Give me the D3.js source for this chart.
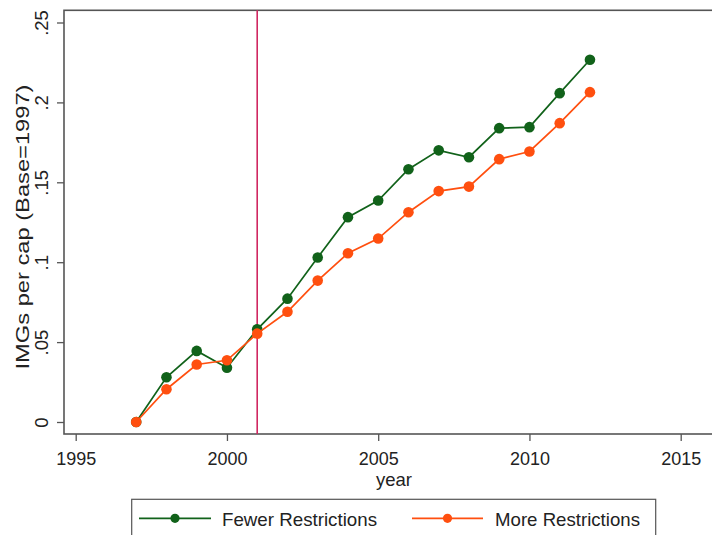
<!DOCTYPE html>
<html>
<head>
<meta charset="utf-8">
<script src="https://cdn.jsdelivr.net/npm/d3@7/dist/d3.min.js"></script>
<style>
  html, body { margin: 0; padding: 0; background: #fff; }
  svg { display: block; font-family: Arial, "Liberation Sans", Helvetica, sans-serif; }
</style>
</head>
<body>
<svg id="chart" width="712" height="535"></svg>
<script>
const years = [1997, 1998, 1999, 2000, 2001, 2002, 2003, 2004, 2005, 2006, 2007, 2008, 2009, 2010, 2011, 2012];
const fewerRestrictions = [0, 0.028, 0.0445, 0.034, 0.058, 0.0772, 0.1029, 0.1282, 0.1386, 0.1582, 0.170, 0.1657, 0.1839, 0.1845, 0.2058, 0.2267];
const moreRestrictions = [0, 0.0205, 0.036, 0.0386, 0.0553, 0.069, 0.0885, 0.1056, 0.1148, 0.1313, 0.1445, 0.1473, 0.1645, 0.1693, 0.187, 0.2064];
const xTicks = [1995, 2000, 2005, 2010, 2015];
const yTicks = [0, 0.05, 0.1, 0.15, 0.2, 0.25];
const yTickLabels = ["0", ".05", ".1", ".15", ".2", ".25"];
const seriesNames = ["Fewer Restrictions", "More Restrictions"];
const policyYear = 2001;

const GREEN = "#11621a";
const ORANGE = "#ff4f0f";
const VLINE = "#d02761";
const AXIS = "#555555";

const svg = d3.select("#chart");
const x = d3.scaleLinear().domain([1995, 2015]).range([75.7, 680.7]);
const y = d3.scaleLinear().domain([0, 0.25]).range([422, 22.5]);

const frame = { left: 64, right: 716, top: 10.3, bottom: 434 };

svg.append("rect")
  .attr("x", frame.left).attr("y", frame.top)
  .attr("width", frame.right - frame.left).attr("height", frame.bottom - frame.top)
  .attr("fill", "none").attr("stroke", AXIS).attr("stroke-width", 1.6);

// X axis
const xAxis = d3.axisBottom(x).tickValues(xTicks).tickFormat(d3.format("d")).tickSize(7).tickPadding(11);
const gx = svg.append("g").attr("transform", `translate(0,${frame.bottom})`).call(xAxis);
gx.select(".domain").remove();
gx.selectAll(".tick line").attr("stroke", AXIS).attr("stroke-width", 1.3);
gx.selectAll(".tick text").attr("fill", "#222").attr("font-size", 18.5).attr("dy", "0.71em")
  .attr("textLength", 40).attr("lengthAdjust", "spacingAndGlyphs");

// Y axis
const yAxis = d3.axisLeft(y).tickValues(yTicks).tickFormat((d, i) => yTickLabels[i]).tickSize(7).tickPadding(0);
const gy = svg.append("g").attr("transform", `translate(${frame.left},0)`).call(yAxis);
gy.select(".domain").remove();
gy.selectAll(".tick line").attr("stroke", AXIS).attr("stroke-width", 1.3);
gy.selectAll(".tick text")
  .attr("fill", "#222").attr("font-size", 18.5)
  .attr("x", null).attr("dy", null)
  .attr("text-anchor", "middle")
  .attr("transform", "translate(-16,0) rotate(-90)");

// axis titles
svg.append("text").attr("x", 394).attr("y", 486).attr("text-anchor", "middle")
  .attr("font-size", 18.5).attr("fill", "#222").text("year");
svg.append("text").attr("transform", "translate(29,227) rotate(-90)").attr("text-anchor", "middle")
  .attr("font-size", 19).attr("fill", "#222")
  .attr("textLength", 285).attr("lengthAdjust", "spacingAndGlyphs")
  .text("IMGs per cap (Base=1997)");

// vertical policy line
svg.append("line")
  .attr("x1", x(policyYear)).attr("x2", x(policyYear))
  .attr("y1", frame.top).attr("y2", frame.bottom)
  .attr("stroke", VLINE).attr("stroke-width", 1.6);

const line = d3.line().x(d => x(d[0])).y(d => y(d[1]));
const series = [
  { name: seriesNames[0], values: fewerRestrictions, color: GREEN },
  { name: seriesNames[1], values: moreRestrictions, color: ORANGE }
];

series.forEach(s => {
  const pts = years.map((yr, i) => [yr, s.values[i]]);
  svg.append("path").datum(pts).attr("d", line)
    .attr("fill", "none").attr("stroke", s.color).attr("stroke-width", 1.7);
  svg.append("g").selectAll("circle").data(pts).join("circle")
    .attr("cx", d => x(d[0])).attr("cy", d => y(d[1])).attr("r", 5.3)
    .attr("fill", s.color);
});

// legend
const lg = svg.append("g");
lg.append("rect").attr("x", 131.7).attr("y", 499.3).attr("width", 524).attr("height", 50)
  .attr("fill", "#fff").attr("stroke", AXIS).attr("stroke-width", 1.2);
const legendItems = [
  { name: seriesNames[0], color: GREEN, x0: 139, x1: 211, tx: 222, tl: 155 },
  { name: seriesNames[1], color: ORANGE, x0: 412, x1: 483, tx: 495, tl: 145 }
];
legendItems.forEach(it => {
  lg.append("line").attr("x1", it.x0).attr("x2", it.x1).attr("y1", 518.3).attr("y2", 518.3)
    .attr("stroke", it.color).attr("stroke-width", 1.7);
  lg.append("circle").attr("cx", (it.x0 + it.x1) / 2).attr("cy", 518.3).attr("r", 4.6).attr("fill", it.color);
  lg.append("text").attr("x", it.tx).attr("y", 526).attr("font-size", 19).attr("fill", "#222")
    .attr("textLength", it.tl).attr("lengthAdjust", "spacingAndGlyphs").text(it.name);
});
</script>
</body>
</html>
